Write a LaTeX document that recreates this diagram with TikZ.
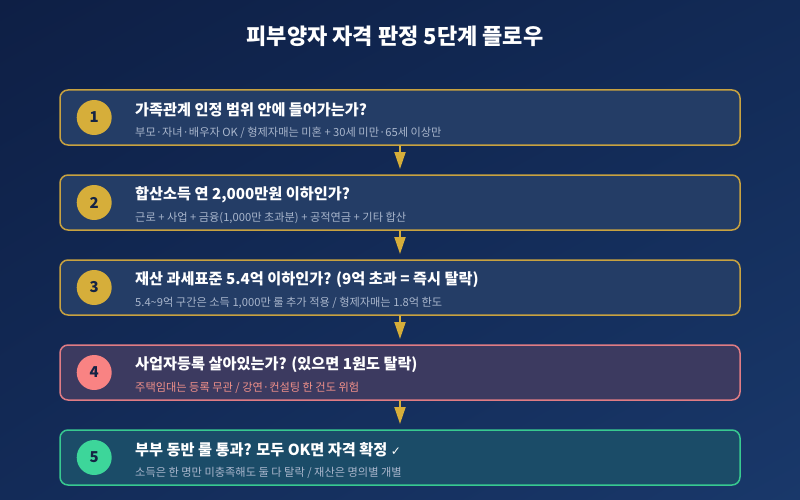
\documentclass[tikz,border=0pt]{standalone}
\usepackage{fontspec}
\setmainfont{Noto Sans CJK KR}
\newfontfamily\symfont{DejaVu Sans}
\usetikzlibrary{arrows.meta,shadings,positioning}
\definecolor{bgtl}{HTML}{0E1F45}
\definecolor{bgtr}{HTML}{122A56}
\definecolor{bgbl}{HTML}{132B58}
\definecolor{bgbr}{HTML}{19386A}
\definecolor{goldline}{HTML}{C8A240}
\definecolor{goldfill}{HTML}{D6AE3A}
\definecolor{boxfill}{HTML}{243D66}
\definecolor{redline}{HTML}{E07C84}
\definecolor{redfill}{HTML}{F98383}
\definecolor{redbox}{HTML}{3C3A60}
\definecolor{redtext}{HTML}{F0908A}
\definecolor{greenline}{HTML}{38C990}
\definecolor{greenfill}{HTML}{3DD69A}
\definecolor{greenbox}{HTML}{1B4C68}
\definecolor{subgrey}{HTML}{A9B6CC}
\definecolor{numtext}{HTML}{152445}
\tikzstyle{stepgold}=[rectangle,
	rounded corners=8pt,
	line width=1.5pt,
	outer sep=0pt,
	minimum width=680pt,
	minimum height=55pt,
	draw=goldline,
	fill=boxfill]
\tikzstyle{stepred}=[stepgold,
	draw=redline,
	fill=redbox]
\tikzstyle{stepgreen}=[stepgold,
	draw=greenline,
	fill=greenbox]
\tikzstyle{badge}=[circle,
	minimum size=35pt,
	inner sep=0pt,
	text=numtext,
	font=\bfseries\fontsize{15}{15}\selectfont,
	fill=goldfill]
\tikzstyle{headline}=[inner sep=0pt,
	text=white,
	font=\bfseries\fontsize{15.2}{15.2}\selectfont]
\tikzstyle{subline}=[inner sep=0pt,
	text=subgrey,
	font=\fontsize{11.2}{11.2}\selectfont]
\tikzstyle{flow}=[draw=goldfill,
	line width=2pt,
	-{Triangle[length=17pt,width=11pt]}]
\begin{document}
\begin{tikzpicture}
					\shade[upper left=bgtl, upper right=bgtr, lower left=bgbl, lower right=bgbr] (0pt,0pt) rectangle (800pt,-500pt);
					\node (title) [text=white, font=\bfseries\fontsize{22}{22}\selectfont] at (395pt,-36pt) {피부양자 자격 판정 5단계 플로우};

					\node (step1) [stepgold] at (400pt,-117.5pt) {};
					\node (num1) [badge, right=16.5pt of step1.west] {1};
					\node (head1) [headline, right=75pt of step1.west, yshift=8pt] {가족관계 인정 범위 안에 들어가는가?};
					\node (sub1) [subline, right=75pt of step1.west, yshift=-15pt] {부모·자녀·배우자 OK / 형제자매는 미혼 + 30세 미만·65세 이상만};

					\node (step2) [stepgold, below=30pt of step1] {};
					\node (num2) [badge, right=16.5pt of step2.west] {2};
					\node (head2) [headline, right=75pt of step2.west, yshift=8pt] {합산소득 연 2,000만원 이하인가?};
					\node (sub2) [subline, right=75pt of step2.west, yshift=-15pt] {근로 + 사업 + 금융(1,000만 초과분) + 공적연금 + 기타 합산};
					\draw[flow] (step1.south) -- ([yshift=6pt]step2.north);

					\node (step3) [stepgold, below=30pt of step2] {};
					\node (num3) [badge, right=16.5pt of step3.west] {3};
					\node (head3) [headline, right=75pt of step3.west, yshift=8pt] {재산 과세표준 5.4억 이하인가? (9억 초과 = 즉시 탈락)};
					\node (sub3) [subline, right=75pt of step3.west, yshift=-15pt] {5.4\textasciitilde9억 구간은 소득 1,000만 룰 추가 적용 / 형제자매는 1.8억 한도};
					\draw[flow] (step2.south) -- ([yshift=6pt]step3.north);

					\node (step4) [stepred, below=30pt of step3] {};
					\node (num4) [badge, fill=redfill, right=16.5pt of step4.west] {4};
					\node (head4) [headline, right=75pt of step4.west, yshift=8pt] {사업자등록 살아있는가? (있으면 1원도 탈락)};
					\node (sub4) [subline, text=redtext, right=75pt of step4.west, yshift=-15pt] {주택임대는 등록 무관 / 강연·컨설팅 한 건도 위험};
					\draw[flow] (step3.south) -- ([yshift=6pt]step4.north);

					\node (step5) [stepgreen, below=30pt of step4] {};
					\node (num5) [badge, fill=greenfill, right=16.5pt of step5.west] {5};
					\node (head5) [headline, right=75pt of step5.west, yshift=8pt] {부부 동반 룰 통과? 모두 OK면 자격 확정 {\symfont\mdseries\fontsize{12}{12}\selectfont ✓}};
					\node (sub5) [subline, right=75pt of step5.west, yshift=-15pt] {소득은 한 명만 미충족해도 둘 다 탈락 / 재산은 명의별 개별};
					\draw[flow] (step4.south) -- ([yshift=6pt]step5.north);
				\end{tikzpicture}
\end{document}
